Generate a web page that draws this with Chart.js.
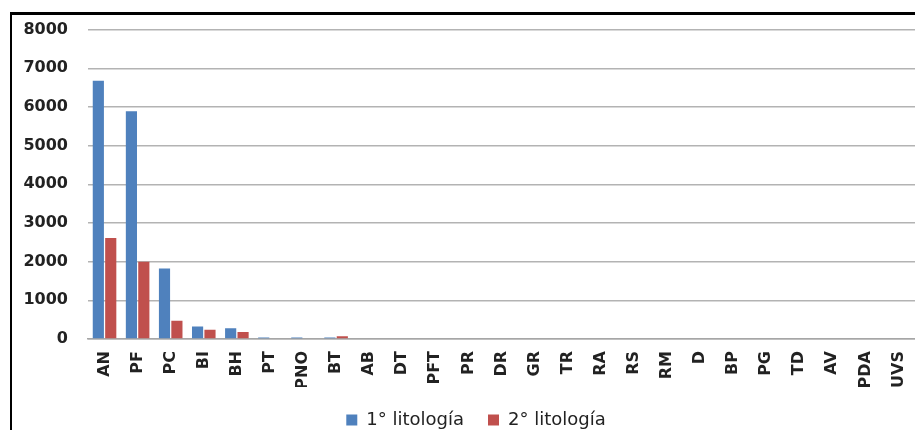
<!DOCTYPE html>
<html>
<head>
<meta charset="utf-8">
<title>Litologías</title>
<script src="https://cdn.jsdelivr.net/npm/chart.js@4.4.0/dist/chart.umd.min.js"></script>
<style>
  html, body { margin: 0; padding: 0; background: #fff; overflow: hidden; width: 915px; height: 430px; }
  #frame { position: absolute; left: 10px; top: 12px; width: 930px; height: 460px;
           border-left: 2px solid #000; border-top: 3px solid #000; }
  #chart-box { position: absolute; left: 0; top: 0; width: 915px; height: 439px; }
</style>
</head>
<body>
<div id="frame"></div>
<div id="chart-box"><canvas id="chart-area"></canvas></div>
<script>
var categories = ['AN', 'PF', 'PC', 'BI', 'BH', 'PT', 'PNO', 'BT', 'AB', 'DT', 'PFT', 'PR', 'DR',
  'GR', 'TR', 'RA', 'RS', 'RM', 'D', 'BP', 'PG', 'TD', 'AV', 'PDA', 'UVS'];
var litologia1 = [6680, 5890, 1820, 320, 280, 40, 40, 40, 0, 0, 0, 0, 0,
  0, 0, 0, 0, 0, 0, 0, 0, 0, 0, 0, 0];
var litologia2 = [2610, 2000, 470, 240, 180, 0, 0, 70, 0, 0, 0, 0, 0,
  0, 0, 0, 0, 0, 0, 0, 0, 0, 0, 0, 0];
var seriesNames = ['1° litología', '2° litología'];
var yMax = 8000;
var yStep = 1000;

var textColor = '#222';
var fontFamily = '"DejaVu Sans", "Liberation Sans", Arial, sans-serif';
var tickFont = { family: fontFamily, size: 16, weight: 'bold' };

// the legend in the picture sits a bit right of the canvas centre
var legendShift = {
  id: 'legendShift',
  afterLayout: function (chart) {
    if (chart.legend) {
      chart.legend.left += 10;
      chart.legend.right += 10;
    }
  }
};

var config = {
  type: 'bar',
  data: {
    labels: categories,
    datasets: [{
      label: seriesNames[0],
      data: litologia1,
      backgroundColor: '#4f81bd',
      categoryPercentage: 0.75,
      barPercentage: 0.9
    }, {
      label: seriesNames[1],
      data: litologia2,
      backgroundColor: '#c0504d',
      categoryPercentage: 0.75,
      barPercentage: 0.9
    }]
  },
  options: {
    responsive: true,
    maintainAspectRatio: false,
    animation: false,
    layout: {
      padding: { left: 17, top: 26, right: 0, bottom: 0 }
    },
    plugins: {
      tooltip: { enabled: false },
      legend: {
        position: 'bottom',
        labels: {
          boxWidth: 11,
          boxHeight: 11,
          padding: 24,
          color: textColor,
          font: { family: fontFamily, size: 18 }
        }
      }
    },
    scales: {
      x: {
        afterFit: function (scale) {
          scale.height = 48;
          // plot runs right up to the edge of the picture
          scale.paddingLeft = 0;
          scale.paddingRight = 0;
        },
        grid: { display: false, drawTicks: false },
        border: { color: '#a6a6a6', width: 1.5 },
        ticks: {
          minRotation: 90,
          maxRotation: 90,
          autoSkip: false,
          padding: 12,
          color: textColor,
          font: tickFont
        }
      },
      y: {
        min: 0,
        max: yMax,
        afterFit: function (scale) { scale.width = 71; },
        grid: { color: '#b3b3b3', lineWidth: 1.5, drawTicks: false },
        border: { display: false },
        ticks: {
          stepSize: yStep,
          padding: 20,
          color: textColor,
          font: tickFont,
          callback: function (value) { return String(value); }
        }
      }
    }
  },
  plugins: [legendShift]
};

var ctx = document.getElementById('chart-area').getContext('2d');
var myBarChart = new Chart(ctx, config);
</script>
</body>
</html>
